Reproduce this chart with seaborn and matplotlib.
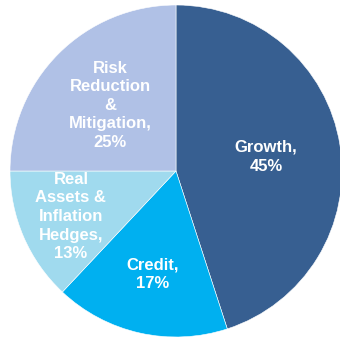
import numpy as np
import matplotlib
matplotlib.use('Agg')
import matplotlib.pyplot as plt
import seaborn as sns

# Asset allocation shares
categories = ['Growth', 'Credit', 'Real\nAssets &\nInflation\nHedges', 'Risk\nReduction\n&\nMitigation']
shares = [45, 17, 13, 25]
colors = ['#375F91', '#00B0F0', '#A0DAEE', '#B0C1E6']
label_dist = [0.55, 0.64, 0.69, 0.56]

sns.set_style('white')
plt.rcParams['font.family'] = ['Liberation Sans', 'DejaVu Sans']

fig = plt.figure(figsize=(3.4, 3.38), dpi=100)
ax = fig.add_axes([10 / 340, 1 / 338, 332 / 340, 332 / 338])

wedges, _ = ax.pie(shares, colors=colors, startangle=90, counterclock=False,
                   radius=1.0, wedgeprops=dict(edgecolor='white', linewidth=0.4))

for w, cat, val, d in zip(wedges, categories, shares, label_dist):
    mid = np.deg2rad((w.theta1 + w.theta2) / 2)
    ax.text(d * np.cos(mid), d * np.sin(mid), f'{cat},\n{val}%',
            ha='center', va='center', color='white', fontsize=12,
            fontweight='bold', linespacing=1.3)

ax.set_xlim(-1, 1)
ax.set_ylim(-1, 1)
ax.set_aspect('equal')
ax.axis('off')

plt.savefig('out.png', dpi=100)
